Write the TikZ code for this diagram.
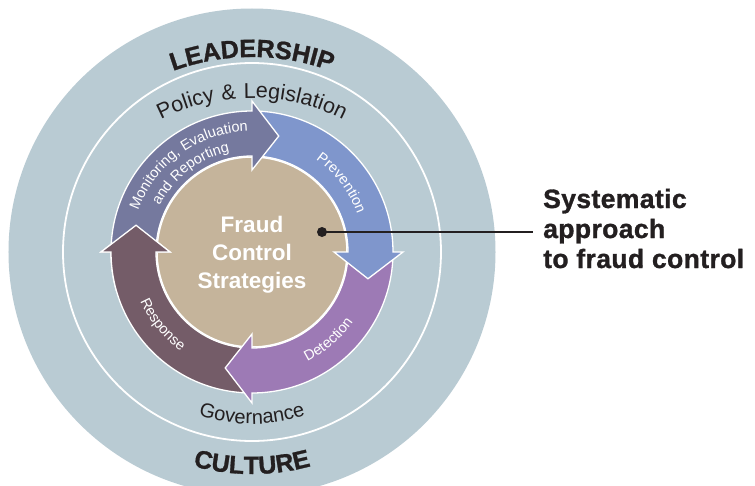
\documentclass[tikz,border=0pt]{standalone}
\usepackage{fontspec}
\setmainfont{Liberation Sans}
\newfontfamily\litefont[LetterSpace=4]{Liberation Sans}
\newfontfamily\polfont[LetterSpace=6]{Liberation Sans}
\newfontfamily\sysfont[LetterSpace=1.5,FakeBold=1.2]{Liberation Sans Bold}
\newfontfamily\heavyfont[FakeBold=1.2]{Liberation Sans Bold}
\usetikzlibrary{decorations.text}
\definecolor{ringblue}{HTML}{B9CBD3}
\definecolor{monit}{HTML}{75799E}
\definecolor{prev}{HTML}{7F96CC}
\definecolor{detec}{HTML}{9D7AB5}
\definecolor{resp}{HTML}{745C68}
\definecolor{fctan}{HTML}{C5B49B}
\definecolor{ink}{HTML}{231F20}
\newcommand{\fcarrow}[2]{%
  \filldraw[band, fill=#2] (#1:141pt) arc[start angle=#1, end angle=#1-90, radius=141pt]
    -- ({#1-90}:151pt) -- ({#1-103}:119pt) -- ({#1-90}:82pt) -- ({#1-90}:96pt)
    arc[start angle=#1-90, end angle=#1, radius=96pt] -- cycle;}
\begin{document}
\begin{tikzpicture}[x=1pt,y=1pt,
  band/.style={draw=white, line width=1.3pt, line join=miter},
  arctext/.style={decorate, decoration={text along path, text align=center, text color=#1}}]
\fill[white] (-252,-233) rectangle (503,252);
\useasboundingbox (-252,-233) rectangle (503,252);
% rings
\fill[ringblue] (0,0) circle[radius=243.5pt];
\draw[white, line width=1.8pt] (0,0) circle[radius=189pt];
% core
\node[circle, fill=fctan, draw=white, line width=1.5pt, minimum size=190pt, inner sep=0pt] (core) at (0,0) {};
% arrows
\fcarrow{270}{resp}
\fcarrow{0}{detec}
\fcarrow{90}{prev}
\fcarrow{180}{monit}
\begin{scope}
  \clip (0,0) -- (150:220pt) -- (196:220pt) -- cycle;
  \fcarrow{270}{resp}
\end{scope}
% outer texts
\path[shift={(0,-35pt)}, arctext=ink, decoration={text={|\heavyfont\fontsize{25}{25}\selectfont|LEADERSHIP}}]
  (140:230pt) arc[start angle=140, end angle=40, radius=230pt];
\path[arctext=ink, decoration={text={|\heavyfont\fontsize{25}{25}\selectfont|CULTURE}}]
  (235:222pt) arc[start angle=235, end angle=305, radius=222pt];
\path[shift={(0,-46pt)}, arctext=ink, decoration={text={|\polfont\fontsize{21.5}{21.5}\selectfont|Policy {\&} Legislation}}]
  (150:200pt) arc[start angle=150, end angle=30, radius=200pt];
\path[arctext=ink, decoration={text={|\litefont\fontsize{20}{20}\selectfont|Governance}}]
  (225:172pt) arc[start angle=225, end angle=315, radius=172pt];
% arrow labels
\path[arctext=white, decoration={text={|\litefont\fontsize{14.5}{14.5}\selectfont|Monitoring, Evaluation}}]
  (186:121pt) arc[start angle=186, end angle=66, radius=121pt];
\path[arctext=white, decoration={text={|\litefont\fontsize{14.5}{14.5}\selectfont|and Reporting}}]
  (188:103pt) arc[start angle=188, end angle=68, radius=103pt];
\path[arctext=white, decoration={text={|\litefont\fontsize{14.5}{14.5}\selectfont|Prevention}}]
  (97.5:112pt) arc[start angle=97.5, end angle=-22.5, radius=112pt];
\path[arctext=white, decoration={text={|\litefont\fontsize{14.5}{14.5}\selectfont|Detection}}]
  (-109:123pt) arc[start angle=-109, end angle=11, radius=123pt];
\path[arctext=white, decoration={text={|\litefont\fontsize{14.5}{14.5}\selectfont|Response}}]
  (159:122pt) arc[start angle=159, end angle=279, radius=122pt];
% centre title
\node[align=center, inner sep=0pt, text=white, font=\bfseries\fontsize{22.5}{28}\selectfont] (title) at (0,-3pt) {Fraud\\Control\\Strategies};
% callout
\node[circle, fill=ink, minimum size=10pt, inner sep=0pt] (dot) at (70pt,20pt) {};
\coordinate (lineend) at (281pt,20pt);
\draw[ink, line width=1.5pt] (dot.center) -- (lineend);
\node[anchor=base west, align=left, inner sep=0pt, text=ink, font=\sysfont\fontsize{26.5}{30}\selectfont] (note) at (291pt,-16pt) {Systematic\\approach\\to fraud control};
\end{tikzpicture}
\end{document}
